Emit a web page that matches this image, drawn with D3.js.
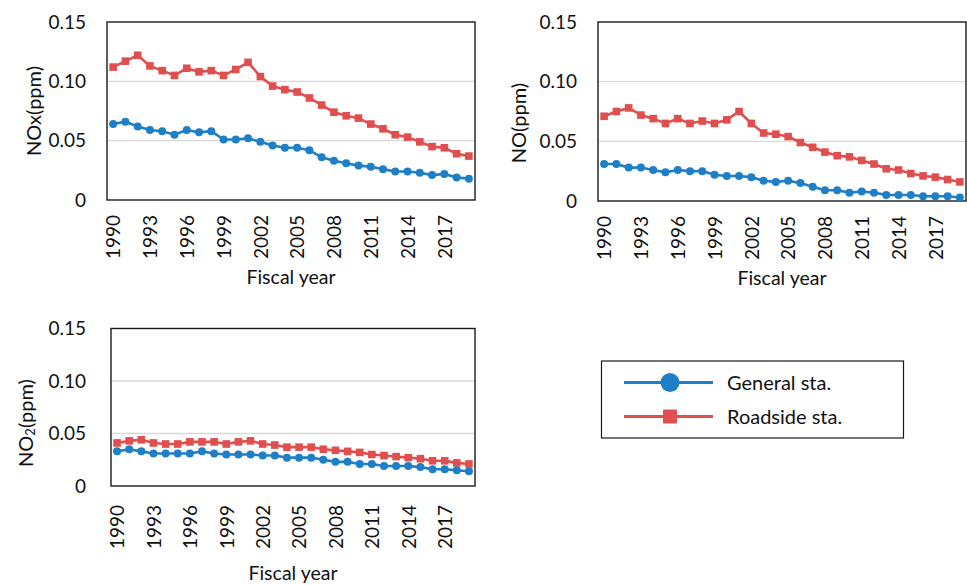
<!DOCTYPE html>
<html>
<head>
<meta charset="utf-8">
<script src="https://cdn.jsdelivr.net/npm/d3@7.9.0/dist/d3.min.js"></script>
<style>
  body { margin: 0; background: #fff; }
  svg { font-family: Lato, "Open Sans", sans-serif; }
</style>
</head>
<body>
<svg id="chart" width="967" height="585"></svg>
<script>
// fiscal years 1990..2019
const years = d3.range(1990, 2020);
const yearLabels = years.filter((y) => (y - 1990) % 3 === 0);

const yTickValues = [0, 0.05, 0.10, 0.15];
const yTickLabels = ["0", "0.05", "0.10", "0.15"];

const noxGeneral = [0.064, 0.066, 0.062, 0.059, 0.058, 0.055, 0.059, 0.057, 0.058, 0.051,
  0.051, 0.052, 0.049, 0.046, 0.044, 0.044, 0.042, 0.036, 0.033, 0.031,
  0.029, 0.028, 0.026, 0.024, 0.024, 0.023, 0.021, 0.022, 0.019, 0.018];
const noxRoadside = [0.112, 0.117, 0.122, 0.113, 0.109, 0.105, 0.111, 0.108, 0.109, 0.105,
  0.110, 0.116, 0.104, 0.096, 0.093, 0.091, 0.086, 0.080, 0.074, 0.071,
  0.069, 0.064, 0.060, 0.055, 0.053, 0.049, 0.045, 0.044, 0.039, 0.037];

const noGeneral = [0.031, 0.031, 0.028, 0.028, 0.026, 0.024, 0.026, 0.025, 0.025, 0.022,
  0.021, 0.021, 0.020, 0.017, 0.016, 0.017, 0.015, 0.012, 0.009, 0.009,
  0.007, 0.008, 0.007, 0.005, 0.005, 0.005, 0.004, 0.004, 0.004, 0.003];
const noRoadside = [0.071, 0.075, 0.078, 0.072, 0.069, 0.065, 0.069, 0.065, 0.067, 0.065,
  0.068, 0.075, 0.065, 0.057, 0.056, 0.054, 0.049, 0.045, 0.041, 0.038,
  0.037, 0.034, 0.031, 0.027, 0.026, 0.023, 0.021, 0.020, 0.018, 0.016];

const no2General = [0.033, 0.035, 0.033, 0.031, 0.031, 0.031, 0.031, 0.033, 0.031, 0.030,
  0.030, 0.030, 0.029, 0.029, 0.027, 0.027, 0.027, 0.025, 0.023, 0.023,
  0.021, 0.021, 0.019, 0.019, 0.019, 0.018, 0.016, 0.016, 0.015, 0.014];
const no2Roadside = [0.041, 0.043, 0.044, 0.041, 0.040, 0.040, 0.042, 0.042, 0.042, 0.040,
  0.042, 0.043, 0.040, 0.039, 0.037, 0.037, 0.037, 0.035, 0.034, 0.033,
  0.032, 0.030, 0.029, 0.028, 0.027, 0.026, 0.024, 0.024, 0.022, 0.021];

const seriesNames = ["General sta.", "Roadside sta."];
const blue = "#1f7fc6";
const red = "#e04e4e";

const svg = d3.select("#chart");

function drawPanel(p) {
  let x = d3.scalePoint().domain(years).range([p.left, p.right]).padding(0.5);
  let y = d3.scaleLinear().domain([0, 0.15]).range([p.bottom, p.top]);

  let g = svg.append("g");

  // gridlines (0.05, 0.10)
  g.selectAll(".grid")
    .data(yTickValues.filter((v) => v > 0 && v < 0.15))
    .join("line")
    .attr("x1", p.left).attr("x2", p.right)
    .attr("y1", (d) => y(d)).attr("y2", (d) => y(d))
    .attr("stroke", "#d9d9d9").attr("stroke-width", 1.3);

  // y axis labels
  let yAxis = d3.axisLeft(y)
    .tickValues(yTickValues)
    .tickSize(0)
    .tickPadding(p.yPad)
    .tickFormat((d, i) => yTickLabels[i]);
  g.append("g")
    .attr("transform", `translate(${p.left},0)`)
    .call(yAxis)
    .call((a) => a.select(".domain").remove())
    .selectAll("text")
    .attr("font-size", 19).attr("fill", "#111")
    .attr("font-family", "Lato, sans-serif");

  // x axis labels, rotated
  let xAxis = d3.axisBottom(x).tickValues(yearLabels).tickSize(0);
  let xa = g.append("g")
    .attr("transform", `translate(0,${p.bottom})`)
    .call(xAxis);
  xa.select(".domain").remove();
  xa.selectAll("text")
    .attr("font-size", 19).attr("fill", "#111")
    .attr("font-family", "Lato, sans-serif")
    .attr("text-anchor", "end")
    .attr("transform", "rotate(-90)")
    .attr("x", -p.xPad).attr("y", 0).attr("dy", "0.36em");

  // plot border
  g.append("rect")
    .attr("x", p.left).attr("y", p.top)
    .attr("width", p.right - p.left).attr("height", p.bottom - p.top)
    .attr("fill", "none").attr("stroke", "#1a1a1a").attr("stroke-width", 1.4);

  let line = d3.line().x((d, i) => x(years[i])).y((d) => y(d));

  // roadside (red squares)
  g.append("path").datum(p.roadside)
    .attr("d", line).attr("fill", "none")
    .attr("stroke", red).attr("stroke-width", 2.6);
  g.selectAll(".sq").data(p.roadside).join("rect")
    .attr("x", (d, i) => x(years[i]) - 3.8)
    .attr("y", (d) => y(d) - 3.8)
    .attr("width", 7.6).attr("height", 7.6)
    .attr("fill", red);

  // general (blue circles)
  g.append("path").datum(p.general)
    .attr("d", line).attr("fill", "none")
    .attr("stroke", blue).attr("stroke-width", 2.6);
  g.selectAll(".dot").data(p.general).join("circle")
    .attr("cx", (d, i) => x(years[i]))
    .attr("cy", (d) => y(d))
    .attr("r", 4)
    .attr("fill", blue);

  // axis titles
  g.append("text")
    .attr("x", (p.left + p.right) / 2).attr("y", p.titleY)
    .attr("text-anchor", "middle").attr("font-size", 19.5).attr("fill", "#111")
    .text("Fiscal year");

  let yt = g.append("text")
    .attr("transform", `translate(${p.yTitleX},${p.yTitleY}) rotate(-90)`)
    .attr("text-anchor", "middle").attr("dominant-baseline", "central")
    .attr("font-size", 20).attr("fill", "#111");
  if (p.sub) {
    yt.append("tspan").text(p.label);
    yt.append("tspan").attr("font-size", 13).attr("dy", 5).text(p.sub);
    yt.append("tspan").attr("dy", -5).text("(ppm)");
  } else {
    yt.text(p.label + "(ppm)");
  }
}

drawPanel({ left: 107, right: 475, top: 22, bottom: 200, yPad: 21, xPad: 15,
  titleY: 284, yTitleX: 33, yTitleY: 111, label: "NOx",
  general: noxGeneral, roadside: noxRoadside });
drawPanel({ left: 598, right: 966, top: 22, bottom: 201, yPad: 21, xPad: 15,
  titleY: 285, yTitleX: 518, yTitleY: 123, label: "NO",
  general: noGeneral, roadside: noRoadside });
drawPanel({ left: 111, right: 475, top: 328.5, bottom: 486, yPad: 25, xPad: 19,
  titleY: 580, yTitleX: 25, yTitleY: 423, label: "NO", sub: "2",
  general: no2General, roadside: no2Roadside });

// legend
const legend = svg.append("g");
legend.append("rect")
  .attr("x", 601.5).attr("y", 361).attr("width", 302).attr("height", 77)
  .attr("fill", "#fff").attr("stroke", "#1a1a1a").attr("stroke-width", 1.2);

const legendRows = [
  { name: seriesNames[0], color: blue, y: 382.5, shape: "circle" },
  { name: seriesNames[1], color: red, y: 416.5, shape: "square" }
];
legendRows.forEach((d) => {
  legend.append("line")
    .attr("x1", 624).attr("x2", 713).attr("y1", d.y).attr("y2", d.y)
    .attr("stroke", d.color).attr("stroke-width", 3);
  if (d.shape === "circle") {
    legend.append("circle").attr("cx", 670).attr("cy", d.y).attr("r", 9.5).attr("fill", d.color);
  } else {
    legend.append("rect").attr("x", 663).attr("y", d.y - 7).attr("width", 14).attr("height", 14)
      .attr("rx", 1).attr("fill", d.color);
  }
  legend.append("text")
    .attr("x", 727).attr("y", d.y).attr("dy", "0.36em")
    .attr("font-size", 20).attr("fill", "#111")
    .text(d.name);
});
</script>
</body>
</html>
